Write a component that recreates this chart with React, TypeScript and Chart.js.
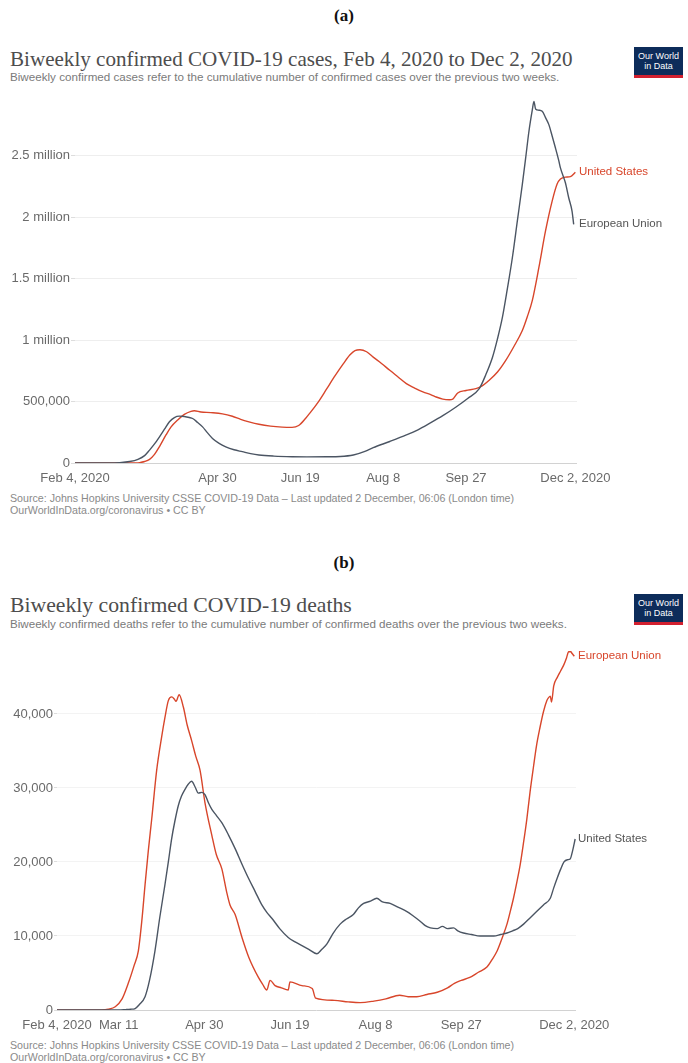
import React, { useEffect, useRef } from "react";
import { Chart, registerables } from "chart.js";

Chart.register(...registerables);

const SANS = '"Liberation Sans", Arial, sans-serif';
const SERIF = '"Liberation Serif", "Times New Roman", serif';
const RED = "#d8462b";
const GREY = "#4b5563";

// ---------- (a) Biweekly confirmed cases; x = days since Feb 4, 2020 ----------
const usCaseDays = [0, 30, 36, 39, 42, 45, 48, 51, 55, 58, 62, 66, 70, 72, 76, 82, 89, 95, 100, 105, 111, 118, 125, 131, 135, 139, 142, 147, 152, 157, 162, 166, 169, 172, 176, 180, 185, 190, 195, 200, 205, 210, 215, 218, 222, 226, 228, 231, 236, 242, 246, 250, 255, 260, 265, 270, 273, 276, 280, 284, 288, 291, 293, 296, 299, 302];
const usCases = [0, 0, 1000, 3000, 12000, 30000, 70000, 134000, 230000, 294000, 350000, 395000, 420000, 425000, 415000, 410000, 400000, 380000, 355000, 335000, 315000, 300000, 292000, 290000, 305000, 360000, 410000, 500000, 605000, 710000, 808000, 880000, 915000, 921000, 905000, 861000, 810000, 754000, 700000, 646000, 610000, 578000, 555000, 537000, 520000, 515000, 520000, 570000, 590000, 605000, 630000, 673000, 740000, 835000, 950000, 1078000, 1190000, 1321000, 1591000, 1888000, 2131000, 2270000, 2310000, 2326000, 2330000, 2365000];
const euCaseDays = [0, 20, 27, 33, 38, 42, 45, 48, 51, 54, 57, 60, 63, 66, 69, 71, 74, 77, 80, 83, 87, 91, 96, 101, 106, 111, 120, 131, 140, 152, 160, 168, 175, 180, 190, 200, 207, 214, 222, 230, 237, 244, 248, 252, 255, 258, 261, 264, 267, 270, 272, 274, 276, 277, 278, 280, 282, 284, 286, 288, 290, 292, 293, 296, 298, 300, 301];
const euCases = [0, 0, 3000, 12000, 30000, 60000, 105000, 155000, 213000, 275000, 335000, 370000, 381000, 378000, 370000, 362000, 330000, 294000, 245000, 200000, 160000, 132000, 108000, 92000, 76000, 65000, 56000, 51000, 50000, 51000, 53000, 65000, 95000, 125000, 175000, 228000, 270000, 322000, 385000, 456000, 525000, 605000, 720000, 861000, 1010000, 1186000, 1420000, 1672000, 1970000, 2267000, 2480000, 2699000, 2870000, 2942000, 2880000, 2870000, 2861000, 2810000, 2753000, 2660000, 2563000, 2460000, 2401000, 2280000, 2158000, 2050000, 1942000];
const caseTickDays = [0, 86, 136, 186, 236, 302];
const caseTickLabels = ["Feb 4, 2020", "Apr 30", "Jun 19", "Aug 8", "Sep 27", "Dec 2, 2020"];
const caseYTicks = [0, 500000, 1000000, 1500000, 2000000, 2500000];
const caseYLabels = ["0", "500,000", "1 million", "1.5 million", "2 million", "2.5 million"];

// ---------- (b) Biweekly confirmed deaths ----------
const euDeathDays = [0, 26, 30, 34, 38, 41.6, 45, 47.5, 49.5, 51.4, 53.3, 55.3, 58.2, 61.1, 63, 65, 67, 68.5, 69.5, 71.3, 73.8, 76, 78.6, 81, 83.5, 86.4, 90.4, 93, 96.2, 99, 101, 104, 108, 112, 117.6, 120, 122.5, 124.4, 127.3, 131, 135, 136, 143, 149, 151, 162, 170, 177, 185, 192, 200, 205, 210, 216, 222, 228, 232, 236, 241, 246, 251, 254, 257, 260, 262.7, 264.5, 266.5, 268.5, 270.4, 272.3, 274.3, 276.2, 278.2, 280, 282, 284, 286, 287, 288, 288.7, 290, 292, 294, 296, 297.5, 298.7, 300, 300.6, 302];
const euDeaths = [0, 0, 100, 440, 1500, 3600, 6000, 8000, 12000, 16900, 21500, 25800, 32400, 36900, 39500, 41800, 42300, 42000, 41700, 42600, 40900, 38500, 36400, 34300, 32400, 28000, 23600, 21000, 19100, 16000, 14200, 12900, 9800, 7100, 4400, 3500, 2700, 4000, 3300, 3000, 2700, 3800, 3300, 2900, 1600, 1300, 1100, 1000, 1200, 1500, 2000, 1800, 1800, 2100, 2400, 3000, 3600, 4000, 4400, 5100, 5800, 6800, 8000, 9800, 11600, 13200, 15100, 17300, 19600, 22500, 25800, 29500, 32900, 35800, 38200, 40300, 41800, 42200, 42400, 41600, 43800, 44900, 45800, 46700, 47600, 48400, 48400, 48200, 47800];
const usDeathDays = [0, 36, 40, 43, 45.6, 48, 51.4, 54, 57.2, 60, 63, 65, 66.9, 68.8, 70.8, 72.7, 74.7, 76.6, 78.6, 80.5, 82.5, 84.5, 86.4, 88.4, 90.4, 93, 96.2, 100, 104, 108, 111.8, 115.7, 119.6, 122.5, 125.4, 130, 135, 139, 143, 147, 151.7, 154.6, 157.5, 161, 165.3, 169, 173, 176, 179, 183, 186.7, 190, 194.5, 199, 204.3, 208, 212, 215, 218, 222, 225, 228, 231.5, 234, 237.3, 242, 247, 251, 255, 259, 262.7, 266, 269, 272.4, 276, 280, 284, 288, 290, 292, 294, 296, 298, 299.6, 301, 302.5];
const usDeaths = [0, 0, 50, 100, 200, 700, 1800, 4000, 8000, 12500, 16900, 20000, 23100, 25500, 27600, 28900, 29800, 30500, 30900, 30200, 29300, 29400, 29100, 28000, 27100, 26300, 25300, 23700, 21800, 19700, 17800, 16000, 14200, 13200, 12400, 11000, 9800, 9200, 8700, 8200, 7600, 8200, 8900, 10300, 11600, 12300, 12900, 13800, 14400, 14700, 15100, 14600, 14400, 13900, 13300, 12700, 12000, 11400, 11100, 11000, 11300, 11000, 11100, 10700, 10400, 10200, 10000, 10000, 10000, 10200, 10400, 10700, 11000, 11600, 12400, 13300, 14200, 15100, 16500, 17800, 19000, 20000, 20300, 20400, 21500, 23100];
const deathTickDays = [0, 36, 86, 136, 186, 236, 302];
const deathTickLabels = ["Feb 4, 2020", "Mar 11", "Apr 30", "Jun 19", "Aug 8", "Sep 27", "Dec 2, 2020"];
const deathYTicks = [0, 10000, 20000, 30000, 40000];
const deathYLabels = ["0", "10,000", "20,000", "30,000", "40,000"];

const toPoints = (days: number[], vals: number[]) => days.map((d, i) => ({ x: d, y: vals[i] }));

let measureCtx: CanvasRenderingContext2D | null = null;
function fitSize(text: string, family: string, weight: string, base: number, width: number) {
  if (!measureCtx) measureCtx = document.createElement("canvas").getContext("2d");
  if (!measureCtx) return base;
  measureCtx.font = `${weight} ${base}px ${family}`;
  const w = measureCtx.measureText(text).width;
  return w > 0 ? (base * width) / w : base;
}

function Txt(props: any) {
  const { text, x, cy, width, size, family, color, weight = "normal", center = false } = props;
  const fs = width ? fitSize(text, family, weight, size, width) : size;
  return (
    <div
      style={{
        position: "absolute",
        left: x,
        top: cy,
        transform: center ? "translate(-50%,-50%)" : "translateY(-50%)",
        fontSize: fs,
        lineHeight: 1,
        fontFamily: family,
        fontWeight: weight as any,
        color,
        whiteSpace: "nowrap",
      }}
    >
      {text}
    </div>
  );
}

function Logo({ top }: { top: number }) {
  return (
    <div
      style={{
        position: "absolute",
        left: 634,
        top,
        width: 49,
        height: 31,
        background: "#0d2c5a",
        boxSizing: "border-box",
        borderBottom: "3px solid #d2202f",
        color: "#fff",
        fontFamily: SANS,
        fontSize: 9,
        lineHeight: "10px",
        textAlign: "center",
        paddingTop: 4,
      }}
    >
      Our World
      <br />
      in Data
    </div>
  );
}

const endLabels = {
  id: "endLabels",
  afterDatasetsDraw(chart: any) {
    const { ctx, chartArea } = chart;
    chart.data.datasets.forEach((ds: any, i: number) => {
      const meta = chart.getDatasetMeta(i);
      const pt = meta.data[meta.data.length - 1];
      if (!pt) return;
      ctx.save();
      ctx.font = `11.5px ${SANS}`;
      ctx.fillStyle = ds.labelColor || ds.borderColor;
      ctx.textBaseline = "middle";
      ctx.textAlign = "left";
      ctx.fillText(ds.label, chartArea.right + 2, pt.y);
      ctx.restore();
    });
  },
};

function LineChart(props: any) {
  const { top, height, datasets, xTicks, xLabels, yTicks, yLabels, yMax, left, right, padTop, gridColor, tickLen } = props;
  const ref = useRef<HTMLCanvasElement>(null);
  useEffect(() => {
    const chart = new Chart(ref.current as HTMLCanvasElement, {
      type: "line",
      data: { datasets },
      options: {
        animation: false,
        responsive: false,
        maintainAspectRatio: false,
        devicePixelRatio: 1,
        layout: { padding: { top: padTop, right: 688 - right, left: 0, bottom: 0 } },
        plugins: { legend: { display: false }, tooltip: { enabled: false } },
        elements: { point: { radius: 0 }, line: { borderWidth: 1.4, cubicInterpolationMode: "monotone" } },
        scales: {
          x: {
            type: "linear",
            min: 0,
            max: 303,
            afterBuildTicks: (s: any) => {
              s.ticks = xTicks.map((v: number) => ({ value: v }));
            },
            afterFit: (s: any) => {
              s.height = 27;
            },
            grid: { display: false, drawTicks: false },
            border: { display: false },
            ticks: {
              padding: 8,
              maxRotation: 0,
              autoSkip: false,
              color: "#6a6a6a",
              font: { family: SANS, size: 13 },
              callback: (v: any) => {
                const i = xTicks.indexOf(Number(v));
                return i >= 0 ? xLabels[i] : "";
              },
            },
          },
          y: {
            type: "linear",
            min: 0,
            max: yMax,
            afterBuildTicks: (s: any) => {
              s.ticks = yTicks.map((v: number) => ({ value: v }));
            },
            afterFit: (s: any) => {
              s.width = left;
            },
            grid: {
              color: (c: any) => (c.tick && c.tick.value === 0 ? "#d2d2d2" : gridColor),
              tickLength: tickLen,
              tickColor: "#dddddd",
              lineWidth: 1,
            },
            border: { display: false },
            ticks: {
              padding: 1,
              color: "#6a6a6a",
              font: { family: SANS, size: 13 },
              callback: (v: any) => {
                const i = yTicks.indexOf(Number(v));
                return i >= 0 ? yLabels[i] : "";
              },
            },
          },
        },
      } as any,
      plugins: [endLabels as any],
    });
    return () => chart.destroy();
  }, []);
  return (
    <canvas
      ref={ref}
      width={688}
      height={height}
      style={{ position: "absolute", left: 0, top, width: 688, height }}
    />
  );
}

export default function App() {
  const casesDatasets = [
    { label: "European Union", data: toPoints(euCaseDays, euCases), borderColor: GREY, labelColor: "#555" },
    { label: "United States", data: toPoints(usCaseDays, usCases), borderColor: RED },
  ];
  const deathDatasets = [
    { label: "United States", data: toPoints(usDeathDays, usDeaths), borderColor: GREY, labelColor: "#555" },
    { label: "European Union", data: toPoints(euDeathDays, euDeaths), borderColor: RED },
  ];
  return (
    <div style={{ position: "absolute", left: 0, top: 0, width: 688, height: 1063, background: "#fff", overflow: "hidden" }}>
      <Txt text="(a)" x={344} cy={15} size={17} family={SERIF} weight="bold" color="#111" center />
      <Txt text="Biweekly confirmed COVID-19 cases, Feb 4, 2020 to Dec 2, 2020" x={10} cy={60} width={563} size={21} family={SERIF} color="#4d4d4d" />
      <Txt text="Biweekly confirmed cases refer to the cumulative number of confirmed cases over the previous two weeks." x={10} cy={77} width={550} size={11} family={SANS} color="#7a7a7a" />
      <Logo top={47} />
      <LineChart
        top={90}
        height={400}
        datasets={casesDatasets}
        xTicks={caseTickDays}
        xLabels={caseTickLabels}
        yTicks={caseYTicks}
        yLabels={caseYLabels}
        yMax={2963000}
        left={75}
        right={577}
        padTop={8}
        gridColor="#eeeeee"
        tickLen={4}
      />
      <Txt text="Source: Johns Hopkins University CSSE COVID-19 Data – Last updated 2 December, 06:06 (London time)" x={10} cy={498} width={505} size={10} family={SANS} color="#8a8a8a" />
      <Txt text="OurWorldInData.org/coronavirus • CC BY" x={10} cy={510} width={196} size={10} family={SANS} color="#8a8a8a" />

      <Txt text="(b)" x={344} cy={562} size={17} family={SERIF} weight="bold" color="#111" center />
      <Txt text="Biweekly confirmed COVID-19 deaths" x={10} cy={606} width={342} size={21} family={SERIF} color="#4d4d4d" />
      <Txt text="Biweekly confirmed deaths refer to the cumulative number of confirmed deaths over the previous two weeks." x={10} cy={624} width={557} size={11} family={SANS} color="#7a7a7a" />
      <Logo top={594} />
      <LineChart
        top={640}
        height={397}
        datasets={deathDatasets}
        xTicks={deathTickDays}
        xLabels={deathTickLabels}
        yTicks={deathYTicks}
        yLabels={deathYLabels}
        yMax={48800}
        left={57}
        right={576}
        padTop={5}
        gridColor="#f3f3f3"
        tickLen={3}
      />
      <Txt text="Source: Johns Hopkins University CSSE COVID-19 Data – Last updated 2 December, 06:06 (London time)" x={10} cy={1045} width={505} size={10} family={SANS} color="#8a8a8a" />
      <Txt text="OurWorldInData.org/coronavirus • CC BY" x={10} cy={1057} width={196} size={10} family={SANS} color="#8a8a8a" />
    </div>
  );
}
